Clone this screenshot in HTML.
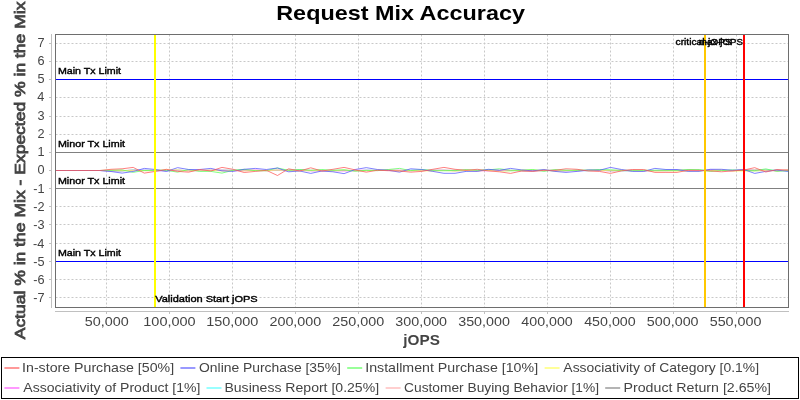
<!DOCTYPE html>
<html><head><meta charset="utf-8"><style>
html,body{margin:0;padding:0;background:#fff;width:800px;height:400px;overflow:hidden}
svg{display:block;will-change:transform}
text{font-family:"Liberation Sans",sans-serif}
</style></head><body>
<svg width="800" height="400" viewBox="0 0 800 400">
<rect x="0" y="0" width="800" height="400" fill="#fff"/>
<text x="276.24" y="19.80" font-size="21" font-weight="bold" fill="#000" textLength="248.68" lengthAdjust="spacingAndGlyphs">Request Mix Accuracy</text>
<path d="M55.5 297.5H788.5 M55.5 279.5H788.5 M55.5 261.5H788.5 M55.5 243.5H788.5 M55.5 224.5H788.5 M55.5 206.5H788.5 M55.5 188.5H788.5 M55.5 170.5H788.5 M55.5 152.5H788.5 M55.5 134.5H788.5 M55.5 116.5H788.5 M55.5 97.5H788.5 M55.5 79.5H788.5 M55.5 61.5H788.5 M55.5 43.5H788.5" stroke="#c8c8c8" stroke-width="1" stroke-dasharray="2,2" fill="none"/>
<path d="M106.5 34.5V307.5 M169.5 34.5V307.5 M232.5 34.5V307.5 M295.5 34.5V307.5 M358.5 34.5V307.5 M421.5 34.5V307.5 M484.5 34.5V307.5 M547.5 34.5V307.5 M610.5 34.5V307.5 M673.5 34.5V307.5 M736.5 34.5V307.5" stroke="#c8c8c8" stroke-width="1" stroke-dasharray="2,2" fill="none"/>
<path d="M55.5 79.5H788.5M55.5 261.5H788.5" stroke="#0000ff" stroke-width="1"/>
<path d="M55.5 152.5H788.5M55.5 188.5H788.5" stroke="#808080" stroke-width="1"/>
<polyline points="55.50,170.50 66.60,170.50 77.70,170.50 88.80,170.50 99.89,170.50 110.99,170.97 122.09,170.85 133.19,170.09 144.29,170.50 155.39,170.32 166.48,170.31 177.58,170.35 188.68,170.65 199.78,170.59 210.88,170.36 221.98,170.19 233.08,170.33 244.17,170.12 255.27,170.56 266.37,170.72 277.47,170.38 288.57,170.08 299.67,170.18 310.77,170.37 321.86,170.60 332.96,170.78 344.06,170.38 355.16,170.80 366.26,170.62 377.36,170.43 388.45,170.37 399.55,170.50 410.65,170.70 421.75,170.42 432.85,170.69 443.95,170.46 455.05,170.25 466.14,170.54 477.24,170.70 488.34,170.07 499.44,170.42 510.54,170.43 521.64,170.88 532.73,170.94 543.83,170.37 554.93,170.90 566.03,170.79 577.13,170.26 588.23,170.46 599.33,170.12 610.42,170.81 621.52,170.66 632.62,170.89 643.72,170.79 654.82,170.67 665.92,170.73 677.02,170.56 688.11,170.10 699.21,170.59 710.31,170.00 721.41,170.14 732.51,170.77 743.61,170.04 754.70,170.09 765.80,170.10 776.90,170.88 788.00,170.18" fill="none" stroke="#808080" stroke-width="1" stroke-opacity="0.75"/>
<polyline points="55.50,170.50 66.60,170.50 77.70,170.50 88.80,170.50 99.89,170.50 110.99,170.73 122.09,170.79 133.19,170.46 144.29,170.77 155.39,170.76 166.48,170.33 177.58,170.65 188.68,170.70 199.78,170.60 210.88,170.51 221.98,170.37 233.08,170.40 244.17,170.34 255.27,170.24 266.37,170.55 277.47,170.37 288.57,170.69 299.67,170.23 310.77,170.74 321.86,170.62 332.96,170.75 344.06,170.74 355.16,170.74 366.26,170.55 377.36,170.21 388.45,170.65 399.55,170.30 410.65,170.38 421.75,170.60 432.85,170.51 443.95,170.45 455.05,170.76 466.14,170.57 477.24,170.40 488.34,170.35 499.44,170.72 510.54,170.49 521.64,170.67 532.73,170.41 543.83,170.32 554.93,170.52 566.03,170.69 577.13,170.30 588.23,170.68 599.33,170.75 610.42,170.68 621.52,170.69 632.62,170.20 643.72,170.58 654.82,170.72 665.92,170.23 677.02,170.36 688.11,170.36 699.21,170.52 710.31,170.45 721.41,170.48 732.51,170.67 743.61,170.20 754.70,170.23 765.80,170.28 776.90,170.27 788.00,170.24" fill="none" stroke="#ffafaf" stroke-width="1" stroke-opacity="0.75"/>
<polyline points="55.50,170.50 66.60,170.50 77.70,170.50 88.80,170.50 99.89,170.50 110.99,170.71 122.09,170.74 133.19,170.02 144.29,170.06 155.39,170.68 166.48,170.96 177.58,170.25 188.68,170.46 199.78,170.59 210.88,170.32 221.98,170.36 233.08,170.31 244.17,170.37 255.27,170.60 266.37,170.30 277.47,170.38 288.57,170.77 299.67,170.03 310.77,170.57 321.86,170.74 332.96,170.31 344.06,170.22 355.16,170.80 366.26,170.24 377.36,170.19 388.45,170.44 399.55,170.70 410.65,170.10 421.75,170.32 432.85,170.33 443.95,170.83 455.05,170.44 466.14,170.86 477.24,170.17 488.34,170.34 499.44,170.65 510.54,170.88 521.64,170.45 532.73,170.23 543.83,170.12 554.93,170.53 566.03,170.19 577.13,170.81 588.23,170.84 599.33,170.18 610.42,170.28 621.52,170.81 632.62,170.64 643.72,170.81 654.82,170.35 665.92,170.13 677.02,170.29 688.11,170.79 699.21,170.27 710.31,170.35 721.41,170.42 732.51,170.42 743.61,170.41 754.70,170.92 765.80,170.16 776.90,170.00 788.00,170.94" fill="none" stroke="#55ffff" stroke-width="1" stroke-opacity="0.75"/>
<polyline points="55.50,170.50 66.60,170.50 77.70,170.50 88.80,170.50 99.89,170.50 110.99,170.77 122.09,170.56 133.19,170.33 144.29,170.15 155.39,170.78 166.48,170.89 177.58,170.17 188.68,170.74 199.78,170.43 210.88,170.22 221.98,170.34 233.08,170.72 244.17,170.80 255.27,170.14 266.37,170.59 277.47,170.14 288.57,170.67 299.67,170.36 310.77,170.80 321.86,170.88 332.96,170.50 344.06,170.90 355.16,170.35 366.26,170.16 377.36,170.58 388.45,170.13 399.55,170.26 410.65,170.43 421.75,170.59 432.85,170.22 443.95,170.13 455.05,170.79 466.14,170.35 477.24,170.87 488.34,170.82 499.44,170.40 510.54,170.47 521.64,170.52 532.73,170.62 543.83,170.58 554.93,170.55 566.03,170.60 577.13,170.85 588.23,170.51 599.33,170.44 610.42,170.68 621.52,170.29 632.62,170.34 643.72,170.88 654.82,170.52 665.92,170.54 677.02,170.11 688.11,170.43 699.21,170.56 710.31,170.12 721.41,170.59 732.51,170.61 743.61,170.15 754.70,170.60 765.80,170.47 776.90,170.64 788.00,170.38" fill="none" stroke="#ff55ff" stroke-width="1" stroke-opacity="0.75"/>
<polyline points="55.50,170.50 66.60,170.50 77.70,170.50 88.80,170.50 99.89,170.50 110.99,170.19 122.09,170.55 133.19,170.34 144.29,170.62 155.39,170.65 166.48,169.98 177.58,169.92 188.68,170.90 199.78,170.21 210.88,170.18 221.98,171.09 233.08,170.46 244.17,170.90 255.27,170.47 266.37,170.67 277.47,170.08 288.57,170.66 299.67,170.94 310.77,170.53 321.86,170.79 332.96,170.71 344.06,169.98 355.16,170.81 366.26,170.61 377.36,170.26 388.45,169.94 399.55,170.94 410.65,170.47 421.75,170.76 432.85,170.95 443.95,170.76 455.05,171.01 466.14,170.37 477.24,170.86 488.34,170.43 499.44,171.02 510.54,170.95 521.64,170.02 532.73,170.06 543.83,170.16 554.93,171.06 566.03,170.42 577.13,170.65 588.23,170.26 599.33,170.51 610.42,170.36 621.52,170.32 632.62,170.60 643.72,170.60 654.82,170.99 665.92,170.72 677.02,171.01 688.11,170.93 699.21,171.09 710.31,170.71 721.41,170.10 732.51,170.93 743.61,171.06 754.70,170.99 765.80,170.58 776.90,170.76 788.00,170.15" fill="none" stroke="#ffff55" stroke-width="1" stroke-opacity="0.75"/>
<polyline points="55.50,170.50 66.60,170.50 77.70,170.50 88.80,170.50 99.89,170.50 110.99,170.30 122.09,169.90 133.19,172.30 144.29,170.50 155.39,170.30 166.48,170.30 177.58,172.15 188.68,169.50 199.78,171.40 210.88,171.40 221.98,173.10 233.08,170.30 244.17,169.30 255.27,170.65 266.37,170.65 277.47,168.00 288.57,170.30 299.67,169.50 310.77,170.30 321.86,169.50 332.96,170.30 344.06,169.90 355.16,171.00 366.26,170.30 377.36,170.65 388.45,169.50 399.55,168.40 410.65,170.65 421.75,169.50 432.85,170.30 443.95,170.30 455.05,170.65 466.14,169.50 477.24,170.30 488.34,169.90 499.44,168.80 510.54,170.30 521.64,170.30 532.73,169.50 543.83,171.40 554.93,169.50 566.03,170.30 577.13,170.30 588.23,170.10 599.33,169.50 610.42,169.90 621.52,170.30 632.62,170.30 643.72,170.30 654.82,170.30 665.92,170.30 677.02,170.30 688.11,169.50 699.21,169.50 710.31,171.40 721.41,170.65 732.51,169.90 743.61,170.50 754.70,170.65 765.80,168.90 776.90,171.25 788.00,170.75" fill="none" stroke="#55ff55" stroke-width="1" stroke-opacity="0.75"/>
<polyline points="55.50,170.50 66.60,170.50 77.70,170.50 88.80,170.50 99.89,170.50 110.99,171.50 122.09,173.10 133.19,171.50 144.29,168.40 155.39,169.50 166.48,171.40 177.58,167.65 188.68,169.50 199.78,169.50 210.88,168.40 221.98,170.90 233.08,171.40 244.17,169.30 255.27,168.40 266.37,169.50 277.47,168.00 288.57,171.80 299.67,171.00 310.77,173.40 321.86,171.00 332.96,171.80 344.06,173.65 355.16,169.50 366.26,167.65 377.36,169.50 388.45,170.30 399.55,172.15 410.65,168.80 421.75,169.50 432.85,171.40 443.95,173.30 455.05,173.30 466.14,171.40 477.24,171.40 488.34,169.30 499.44,170.30 510.54,168.40 521.64,169.90 532.73,170.90 543.83,169.50 554.93,171.40 566.03,172.40 577.13,171.40 588.23,169.90 599.33,170.30 610.42,167.40 621.52,169.50 632.62,171.40 643.72,171.40 654.82,168.40 665.92,169.50 677.02,169.50 688.11,171.40 699.21,171.40 710.31,169.30 721.41,169.30 732.51,170.30 743.61,169.50 754.70,173.40 765.80,171.40 776.90,170.10 788.00,171.40" fill="none" stroke="#5555ff" stroke-width="1" stroke-opacity="0.75"/>
<polyline points="55.50,170.50 66.60,170.50 77.70,170.50 88.80,170.50 99.89,170.50 110.99,169.30 122.09,168.80 133.19,167.40 144.29,173.10 155.39,171.40 166.48,169.30 177.58,171.40 188.68,172.15 199.78,169.50 210.88,171.00 221.98,167.40 233.08,169.30 244.17,172.50 255.27,171.40 266.37,170.30 277.47,175.50 288.57,168.80 299.67,171.00 310.77,167.80 321.86,171.00 332.96,169.30 344.06,167.40 355.16,169.90 366.26,172.15 377.36,170.30 388.45,170.65 399.55,171.00 410.65,172.15 421.75,171.40 432.85,169.30 443.95,167.40 455.05,169.30 466.14,170.30 477.24,169.30 488.34,170.90 499.44,171.80 510.54,173.40 521.64,171.00 532.73,171.40 543.83,170.30 554.93,170.30 566.03,168.80 577.13,169.30 588.23,171.00 599.33,171.40 610.42,173.40 621.52,170.90 632.62,169.50 643.72,169.50 654.82,172.40 665.92,172.40 677.02,172.40 688.11,170.30 699.21,170.30 710.31,170.90 721.41,171.80 732.51,170.90 743.61,170.10 754.70,167.65 765.80,172.00 776.90,169.50 788.00,170.10" fill="none" stroke="#ff5555" stroke-width="1" stroke-opacity="0.75"/>
<path d="M155 34.5V307.5" stroke="#ffff00" stroke-width="2"/>
<path d="M705 34.5V307.5" stroke="#ffc800" stroke-width="2"/>
<path d="M744 34.5V307.5" stroke="#ff0000" stroke-width="2"/>
<text x="57.93" y="73.80" font-size="9.5" font-weight="normal" fill="#000" textLength="63.15" lengthAdjust="spacingAndGlyphs" stroke="#000" stroke-width="0.4">Main Tx Limit</text>
<text x="57.92" y="146.80" font-size="9.5" font-weight="normal" fill="#000" textLength="67.16" lengthAdjust="spacingAndGlyphs" stroke="#000" stroke-width="0.4">Minor Tx Limit</text>
<text x="57.92" y="183.80" font-size="9.5" font-weight="normal" fill="#000" textLength="67.16" lengthAdjust="spacingAndGlyphs" stroke="#000" stroke-width="0.4">Minor Tx Limit</text>
<text x="57.93" y="256.25" font-size="9.5" font-weight="normal" fill="#000" textLength="63.15" lengthAdjust="spacingAndGlyphs" stroke="#000" stroke-width="0.4">Main Tx Limit</text>
<text x="155.15" y="301.75" font-size="9.5" font-weight="normal" fill="#000" textLength="102.55" lengthAdjust="spacingAndGlyphs" stroke="#000" stroke-width="0.4">Validation Start jOPS</text>
<text x="675.56" y="44.50" font-size="9.5" font-weight="normal" fill="#000" textLength="56.41" lengthAdjust="spacingAndGlyphs" stroke="#000" stroke-width="0.4">critical-jOPS</text>
<text x="698.86" y="44.50" font-size="9.5" font-weight="normal" fill="#000" textLength="44.09" lengthAdjust="spacingAndGlyphs" stroke="#000" stroke-width="0.4">max-jOPS</text>
<rect x="55.5" y="34.5" width="733.0" height="273.0" fill="none" stroke="#6e6e6e" stroke-width="1"/>
<path d="M51.5 34.0V308.0M55.0 311.5H789.0" stroke="#c0c0c0" stroke-width="1"/>
<path d="M49 297.5H51 M49 279.5H51 M49 261.5H51 M49 243.5H51 M49 224.5H51 M49 206.5H51 M49 188.5H51 M49 170.5H51 M49 152.5H51 M49 134.5H51 M49 116.5H51 M49 97.5H51 M49 79.5H51 M49 61.5H51 M49 43.5H51 M106.5 312V314 M169.5 312V314 M232.5 312V314 M295.5 312V314 M358.5 312V314 M421.5 312V314 M484.5 312V314 M547.5 312V314 M610.5 312V314 M673.5 312V314 M736.5 312V314" stroke="#c0c0c0" stroke-width="1"/>
<text x="33.35" y="302.00" font-size="12.7" font-weight="normal" fill="#444" textLength="11.29" lengthAdjust="spacingAndGlyphs">-7</text>
<text x="33.27" y="284.00" font-size="12.7" font-weight="normal" fill="#444" textLength="11.29" lengthAdjust="spacingAndGlyphs">-6</text>
<text x="33.24" y="266.00" font-size="12.7" font-weight="normal" fill="#444" textLength="11.29" lengthAdjust="spacingAndGlyphs">-5</text>
<text x="33.08" y="248.00" font-size="12.7" font-weight="normal" fill="#444" textLength="11.29" lengthAdjust="spacingAndGlyphs">-4</text>
<text x="33.27" y="229.00" font-size="12.7" font-weight="normal" fill="#444" textLength="11.29" lengthAdjust="spacingAndGlyphs">-3</text>
<text x="33.35" y="211.00" font-size="12.7" font-weight="normal" fill="#444" textLength="11.29" lengthAdjust="spacingAndGlyphs">-2</text>
<text x="33.33" y="193.00" font-size="12.7" font-weight="normal" fill="#444" textLength="11.29" lengthAdjust="spacingAndGlyphs">-1</text>
<text x="37.43" y="174.00" font-size="12.7" font-weight="normal" fill="#444" textLength="7.06" lengthAdjust="spacingAndGlyphs">0</text>
<text x="37.56" y="156.00" font-size="12.7" font-weight="normal" fill="#444" textLength="7.06" lengthAdjust="spacingAndGlyphs">1</text>
<text x="37.58" y="138.00" font-size="12.7" font-weight="normal" fill="#444" textLength="7.06" lengthAdjust="spacingAndGlyphs">2</text>
<text x="37.49" y="120.00" font-size="12.7" font-weight="normal" fill="#444" textLength="7.06" lengthAdjust="spacingAndGlyphs">3</text>
<text x="37.31" y="101.00" font-size="12.7" font-weight="normal" fill="#444" textLength="7.06" lengthAdjust="spacingAndGlyphs">4</text>
<text x="37.47" y="83.00" font-size="12.7" font-weight="normal" fill="#444" textLength="7.06" lengthAdjust="spacingAndGlyphs">5</text>
<text x="37.49" y="65.00" font-size="12.7" font-weight="normal" fill="#444" textLength="7.06" lengthAdjust="spacingAndGlyphs">6</text>
<text x="37.58" y="47.00" font-size="12.7" font-weight="normal" fill="#444" textLength="7.06" lengthAdjust="spacingAndGlyphs">7</text>
<text x="84.85" y="326.00" font-size="12.7" font-weight="normal" fill="#444" textLength="43.94" lengthAdjust="spacingAndGlyphs">50,000</text>
<text x="143.30" y="326.00" font-size="12.7" font-weight="normal" fill="#444" textLength="52.27" lengthAdjust="spacingAndGlyphs">100,000</text>
<text x="206.17" y="326.00" font-size="12.7" font-weight="normal" fill="#444" textLength="52.27" lengthAdjust="spacingAndGlyphs">150,000</text>
<text x="269.43" y="326.00" font-size="12.7" font-weight="normal" fill="#444" textLength="51.88" lengthAdjust="spacingAndGlyphs">200,000</text>
<text x="332.30" y="326.00" font-size="12.7" font-weight="normal" fill="#444" textLength="51.88" lengthAdjust="spacingAndGlyphs">250,000</text>
<text x="395.36" y="326.00" font-size="12.7" font-weight="normal" fill="#444" textLength="51.70" lengthAdjust="spacingAndGlyphs">300,000</text>
<text x="458.23" y="326.00" font-size="12.7" font-weight="normal" fill="#444" textLength="51.70" lengthAdjust="spacingAndGlyphs">350,000</text>
<text x="521.32" y="326.00" font-size="12.7" font-weight="normal" fill="#444" textLength="51.48" lengthAdjust="spacingAndGlyphs">400,000</text>
<text x="584.20" y="326.00" font-size="12.7" font-weight="normal" fill="#444" textLength="51.48" lengthAdjust="spacingAndGlyphs">450,000</text>
<text x="646.83" y="326.00" font-size="12.7" font-weight="normal" fill="#444" textLength="51.73" lengthAdjust="spacingAndGlyphs">500,000</text>
<text x="709.70" y="326.00" font-size="12.7" font-weight="normal" fill="#444" textLength="51.73" lengthAdjust="spacingAndGlyphs">550,000</text>
<text x="403.34" y="344.75" font-size="14.8" font-weight="bold" fill="#444" textLength="36.56" lengthAdjust="spacingAndGlyphs">jOPS</text>
<g transform="translate(25,170.5) rotate(-90)">
<text x="-168.78" y="0.00" font-size="14.8" font-weight="normal" fill="#444" textLength="337.72" lengthAdjust="spacingAndGlyphs" stroke="#444" stroke-width="0.8">Actual % in the Mix - Expected % in the Mix</text>
</g>
<rect x="1.5" y="357.5" width="797" height="41" fill="none" stroke="#000" stroke-width="1"/>
<path d="M4.4 368H19.4" stroke="#ff5555" stroke-width="1.6" opacity="0.75"/>
<text x="22.09" y="372.00" font-size="12.7" font-weight="normal" fill="#444" textLength="152.02" lengthAdjust="spacingAndGlyphs">In-store Purchase [50%]</text>
<path d="M180.4 368H195.4" stroke="#5555ff" stroke-width="1.6" opacity="0.75"/>
<text x="199.09" y="372.00" font-size="12.7" font-weight="normal" fill="#444" textLength="141.90" lengthAdjust="spacingAndGlyphs">Online Purchase [35%]</text>
<path d="M347.2 368H362.2" stroke="#55ff55" stroke-width="1.6" opacity="0.75"/>
<text x="365.19" y="372.00" font-size="12.7" font-weight="normal" fill="#444" textLength="172.92" lengthAdjust="spacingAndGlyphs">Installment Purchase [10%]</text>
<path d="M544.6 368H559.6" stroke="#ffff55" stroke-width="1.6" opacity="0.75"/>
<text x="563.37" y="372.00" font-size="12.7" font-weight="normal" fill="#444" textLength="195.72" lengthAdjust="spacingAndGlyphs">Associativity of Category [0.1%]</text>
<path d="M4.4 388H19.4" stroke="#ff55ff" stroke-width="1.6" opacity="0.75"/>
<text x="23.37" y="392.00" font-size="12.7" font-weight="normal" fill="#444" textLength="177.03" lengthAdjust="spacingAndGlyphs">Associativity of Product [1%]</text>
<path d="M206.5 388H221.5" stroke="#55ffff" stroke-width="1.6" opacity="0.75"/>
<text x="224.45" y="392.00" font-size="12.7" font-weight="normal" fill="#444" textLength="154.65" lengthAdjust="spacingAndGlyphs">Business Report [0.25%]</text>
<path d="M385.6 388H400.6" stroke="#ffafaf" stroke-width="1.6" opacity="0.75"/>
<text x="404.05" y="392.00" font-size="12.7" font-weight="normal" fill="#444" textLength="195.03" lengthAdjust="spacingAndGlyphs">Customer Buying Behavior [1%]</text>
<path d="M605.2 388H620.2" stroke="#808080" stroke-width="1.6" opacity="0.75"/>
<text x="623.54" y="392.00" font-size="12.7" font-weight="normal" fill="#444" textLength="147.48" lengthAdjust="spacingAndGlyphs">Product Return [2.65%]</text>
</svg></body></html>
